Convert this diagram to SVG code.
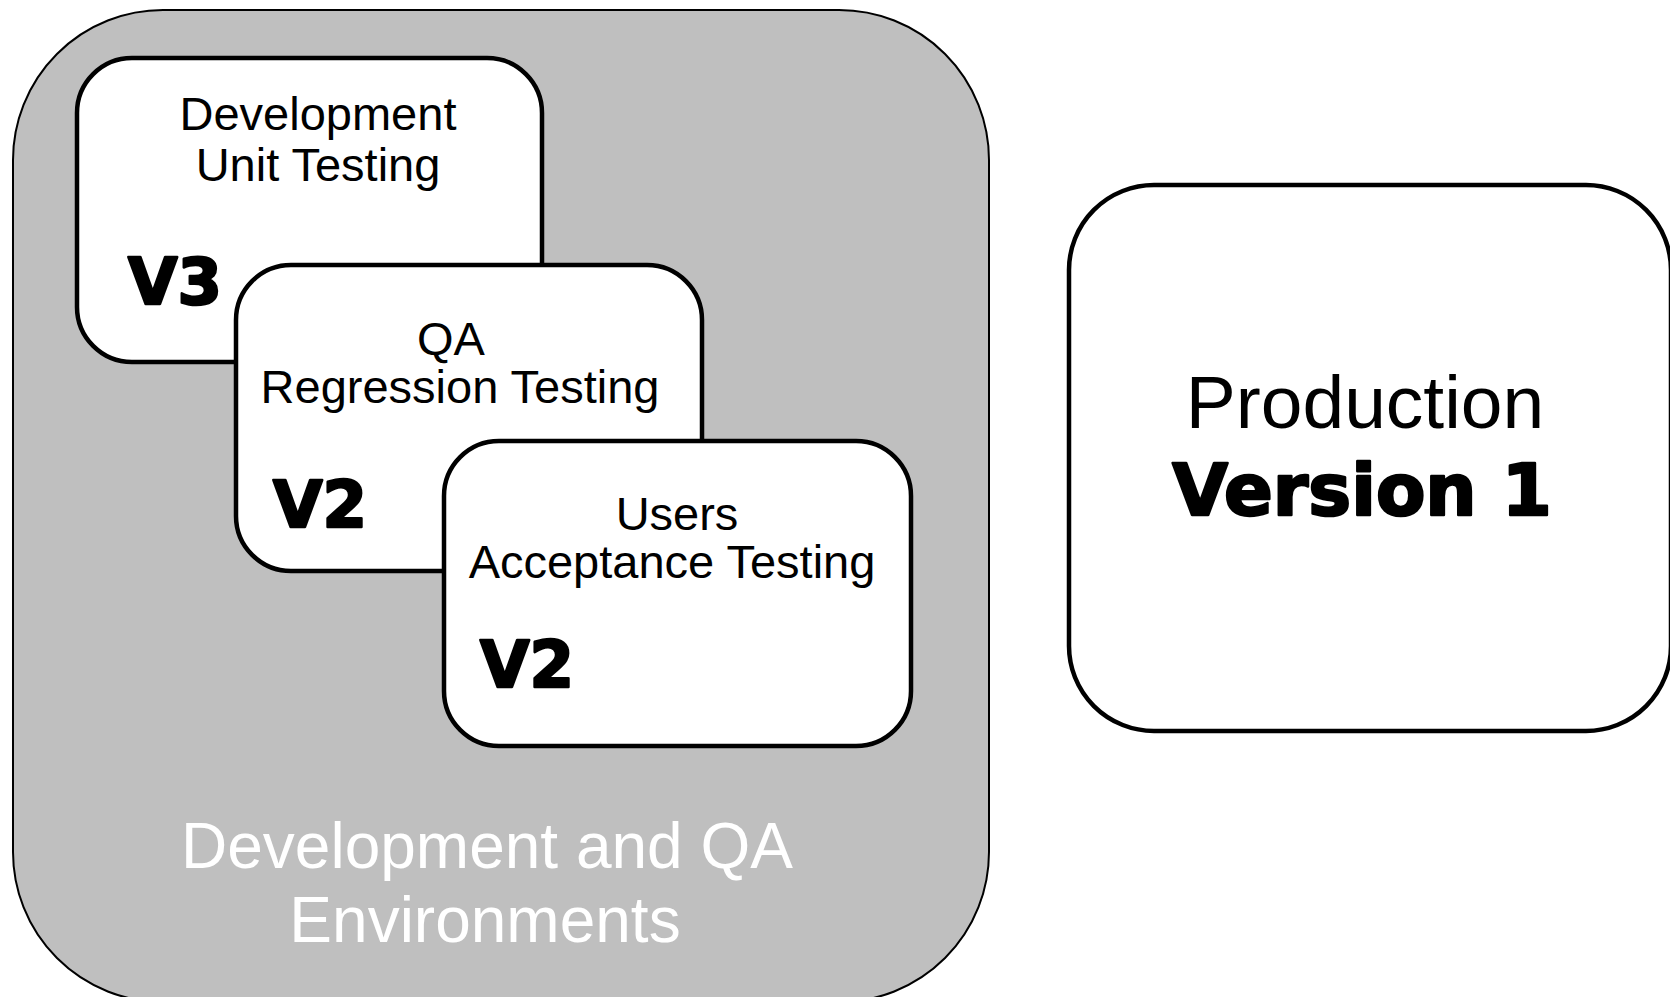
<svg xmlns="http://www.w3.org/2000/svg" width="1670" height="997" viewBox="0 0 1670 997">
<style>
.box{fill:#fff;stroke:#000;stroke-width:4.5}
.t{font-family:"Liberation Sans",Arial,sans-serif;fill:#000;text-anchor:middle}
.v{font-family:"DejaVu Sans","Liberation Sans",sans-serif;font-weight:bold;fill:#000;stroke:#000;stroke-width:2.5;stroke-linejoin:round}
.w{font-family:"Liberation Sans",Arial,sans-serif;fill:#fff;text-anchor:middle;font-size:64px}
</style>
<rect width="1670" height="997" fill="#fff"/>
<g id="env">
<rect x="13" y="10" width="976" height="992" rx="150" ry="150" fill="#BFBFBF" stroke="#000" stroke-width="2"/>
<text class="w" x="487" y="868">Development and QA</text>
<text class="w" x="485" y="942">Environments</text>
</g>
<g id="dev">
<rect class="box" x="77" y="58" width="465" height="304" rx="55"/>
<text class="t" font-size="47" x="318" y="130">Development</text>
<text class="t" font-size="47" x="318" y="181">Unit Testing</text>
<text class="v" font-size="64" x="128" y="304">V3</text>
</g>
<g id="qa">
<rect class="box" x="236" y="265" width="466" height="306" rx="55"/>
<text class="t" font-size="47" x="451" y="355">QA</text>
<text class="t" font-size="47" x="460" y="403">Regression Testing</text>
<text class="v" font-size="64" x="273" y="527">V2</text>
</g>
<g id="uat">
<rect class="box" x="444" y="441" width="467" height="305" rx="55"/>
<text class="t" font-size="47" x="677" y="530">Users</text>
<text class="t" font-size="47" x="672" y="578">Acceptance Testing</text>
<text class="v" font-size="64" x="480" y="687">V2</text>
</g>
<g id="prod">
<rect class="box" x="1069" y="185" width="602" height="546" rx="85"/>
<text class="t" font-size="75" x="1365" y="428">Production</text>
<text class="v" font-size="72" x="1362" y="515" text-anchor="middle">Version 1</text>
</g>
<g id="connectors"></g>
</svg>
